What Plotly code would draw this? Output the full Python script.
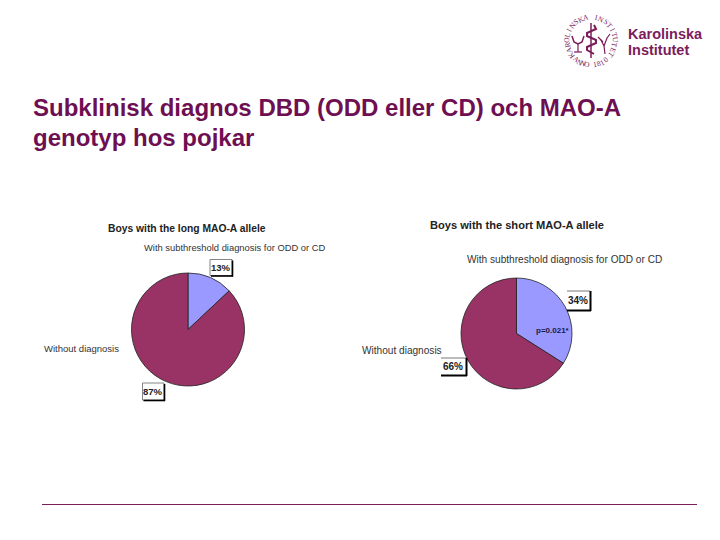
import math
import plotly.graph_objects as go

W, H = 720, 540

title_lines = ["Subklinisk diagnos DBD (ODD eller CD) och MAO-A", "genotyp hos pojkar"]
slice_labels = ["With subthreshold diagnosis for ODD or CD", "Without diagnosis"]
long_values = [13, 87]
short_values = [34, 66]
long_title = "Boys with the long MAO-A allele"
short_title = "Boys with the short MAO-A allele"
p_text = "p=0.021*"
seal_top = "KAROLINSKA INSTITUTET"
seal_bottom = "ANNO 1810"
logo_lines = ["Karolinska", "Institutet"]

BLUE = "#9999ff"
MAROON = "#993366"
LOGO = "#7b1c5c"
TITLE = "#6e0f52"
FONT = "Liberation Sans"


def px(x):
    return x / W


def py(y):
    return 1 - y / H


def pie(values, x0, x1, y0, y1):
    return go.Pie(
        values=values,
        labels=slice_labels,
        sort=False,
        direction="clockwise",
        rotation=0,
        textinfo="none",
        hoverinfo="label+percent",
        showlegend=False,
        domain=dict(x=[px(x0), px(x1)], y=[py(y1), py(y0)]),
        marker=dict(colors=[BLUE, MAROON], line=dict(color="#222222", width=0.8)),
    )


fig = go.Figure([
    pie(long_values, 131.5, 244.5, 273, 386),
    pie(short_values, 461, 572, 278, 389),
])

annotations = []
shapes = []


def text(x, y, s, size, color="#222222", bold=False, anchor="left", angle=0, family=FONT):
    annotations.append(dict(
        x=px(x), y=py(y), xref="paper", yref="paper",
        text=f"<b>{s}</b>" if bold else s,
        showarrow=False, xanchor=anchor, yanchor="middle", textangle=angle,
        font=dict(family=family, size=size, color=color),
        borderpad=0, borderwidth=0,
    ))


def line(x0, y0, x1, y1, color="black", width=1):
    shapes.append(dict(type="line", xref="paper", yref="paper",
                       x0=px(x0), y0=py(y0), x1=px(x1), y1=py(y1),
                       line=dict(color=color, width=width)))


def curve(points, color=LOGO, width=1.2):
    path = "M " + " L ".join(f"{px(x):.5f},{py(y):.5f}" for x, y in points)
    shapes.append(dict(type="path", xref="paper", yref="paper", path=path,
                       line=dict(color=color, width=width)))


# slide title
text(33, 108, title_lines[0], 24, color=TITLE, bold=True)
text(33, 137, title_lines[1], 24, color=TITLE, bold=True)

# left chart texts
text(108, 228, long_title, 10.3, bold=True)
text(144, 247.5, slice_labels[0], 9.4, color="#333333")
text(44, 348.5, slice_labels[1], 9.5, color="#333333")

# right chart texts
text(430, 225.5, short_title, 11.1, bold=True)
text(467, 260, slice_labels[0], 10.1, color="#333333")
text(361.5, 350.5, slice_labels[1], 10.1, color="#333333")
text(553, 330, p_text, 8, color="#1a1a4a", bold=True, anchor="center")

# percent boxes, left chart: full frame and shadow
for x0, y0, x1, y1, s in [(210, 259.5, 232, 275.5, "13%"), (142.5, 383, 164, 400, "87%")]:
    shapes.append(dict(type="rect", xref="paper", yref="paper",
                       x0=px(x0), y0=py(y0), x1=px(x1), y1=py(y1),
                       fillcolor="white", line=dict(color="#666666", width=0.8), layer="above"))
    line(x1 + 0.5, y0 + 1, x1 + 0.5, y1 + 1, width=1.6)
    line(x0 + 1, y1 + 0.5, x1 + 1, y1 + 0.5, width=1.6)
    text((x0 + x1) / 2, (y0 + y1) / 2, s, 9.5, bold=True, anchor="center")

# percent boxes, right chart: top rule with heavy right and bottom edges
for x0, y0, x1, y1, s in [(567, 291, 590, 310, "34%"), (441, 358, 466, 375, "66%")]:
    shapes.append(dict(type="rect", xref="paper", yref="paper",
                       x0=px(x0), y0=py(y0), x1=px(x1), y1=py(y1),
                       fillcolor="white", line=dict(width=0), layer="above"))
    line(x0, y0, x1, y0, color="#555555", width=0.8)
    line(x1 + 0.5, y0, x1 + 0.5, y1 + 1, width=2)
    line(x0, y1 + 0.5, x1 + 1, y1 + 0.5, width=2)
    text((x0 + x1) / 2 - 0.5, (y0 + y1) / 2, s, 10, bold=True, anchor="center", color="#222222")

# footer rule
line(42, 504.5, 697, 504.5, color=LOGO, width=1)

# logo wordmark
text(628, 34, logo_lines[0], 14.5, color=LOGO, bold=True)
text(628, 50, logo_lines[1], 14.5, color=LOGO, bold=True)

# logo seal, letters set round a ring
cx, cy, ring = 591, 41, 24
n = len(seal_top)
for i, ch in enumerate(seal_top):
    a = math.radians(-125 + 250 * i / (n - 1))
    text(cx + ring * math.sin(a), cy - ring * math.cos(a), ch, 7.5, color=LOGO,
         anchor="center", angle=math.degrees(a), family="Liberation Serif")
n = len(seal_bottom)
for i, ch in enumerate(seal_bottom):
    a = math.radians(-38 + 76 * i / (n - 1))
    text(cx + ring * math.sin(a), cy + ring * math.cos(a), ch, 7.5, color=LOGO,
         anchor="center", angle=-math.degrees(a), family="Liberation Serif")

# logo seal, staff, serpent, cup and plant
line(591, 23, 591, 58, color=LOGO, width=1.5)
curve([(594, 25), (596, 29), (587, 33), (587, 36), (596, 40), (596, 43), (587, 47), (587, 50), (594, 54)],
      width=2)
curve([(572, 36), (574, 42), (578, 44), (582, 42), (584, 36)], width=1.5)
line(578, 44, 578, 52, color=LOGO, width=1.2)
line(574, 52, 582, 52, color=LOGO, width=1.2)
curve([(605, 54), (604, 46), (601, 40)], width=1.2)
curve([(604, 46), (607, 38), (610, 34)], width=1.2)
curve([(603, 42), (598, 37)], width=1.2)

fig.update_layout(
    width=W, height=H,
    margin=dict(l=0, r=0, t=0, b=0),
    paper_bgcolor="white", plot_bgcolor="white",
    annotations=annotations, shapes=shapes,
    font=dict(family=FONT),
)

# the page's default body margin would push the figure 8px off
fig.write_html("out.html", config=dict(displayModeBar=False),
               post_script="document.body.style.margin='0';")
